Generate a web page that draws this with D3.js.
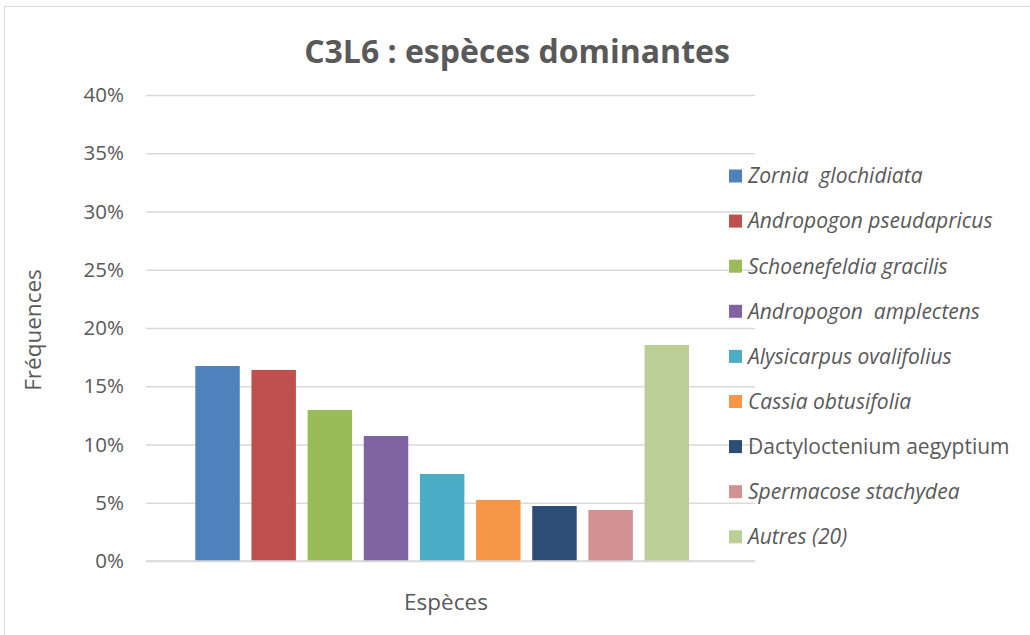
<!DOCTYPE html>
<html>
<head>
<meta charset="utf-8">
<script src="https://cdn.jsdelivr.net/npm/d3@7.9.0/dist/d3.min.js"></script>
<style>
  body { margin: 0; background: #fff; }
  text { font-family: "Open Sans", sans-serif; fill: #595959; }
</style>
</head>
<body>
<div id="chart"></div>
<script>
// data
const species = [
  "Zornia  glochidiata",
  "Andropogon pseudapricus",
  "Schoenefeldia gracilis",
  "Andropogon  amplectens",
  "Alysicarpus ovalifolius",
  "Cassia obtusifolia",
  "Dactyloctenium aegyptium",
  "Spermacose stachydea",
  "Autres (20)"
];
const frequencies = [0.1674, 0.164, 0.1296, 0.1073, 0.0747, 0.0524, 0.0472, 0.0438, 0.1854];
const italic = [true, true, true, true, true, true, false, true, true];
const colors = ["#4f81bd", "#c0504d", "#9bbb59", "#8064a2", "#4bacc6", "#f79646", "#2c4d75", "#d39191", "#bbce96"];
const yTicks = [0, 0.05, 0.1, 0.15, 0.2, 0.25, 0.3, 0.35, 0.4];

const width = 1030, height = 635;
const svg = d3.select('#chart').append('svg')
  .attr('width', width).attr('height', height);

// chart frame
svg.append('rect')
  .attr('x', 4.5).attr('y', 6.5)
  .attr('width', 1040).attr('height', 640)
  .attr('fill', 'none').attr('stroke', '#d9d9d9');

const plot = { left: 146, right: 755, top: 95, bottom: 561 };

const y = d3.scaleLinear().domain([0, 0.4]).range([plot.bottom, plot.top]);
const x = d3.scaleBand().domain(species).range([195.3, 689]).paddingInner(0.208).paddingOuter(0);
const color = d3.scaleOrdinal().domain(species).range(colors);

// gridlines
svg.append('g')
  .attr('class', 'gridlines')
  .attr('transform', `translate(${plot.left}, 0)`)
  .call(d3.axisLeft(y).tickValues(yTicks).tickFormat('').tickSize(-(plot.right - plot.left)))
  .call(g => g.select('.domain').remove())
  .call(g => g.selectAll('line').attr('stroke', '#d9d9d9').attr('stroke-width', 1.5));

// y axis labels
svg.append('g')
  .attr('transform', `translate(${plot.left}, 0)`)
  .call(d3.axisLeft(y).tickValues(yTicks).tickFormat(d3.format('.0%')).tickSize(0).tickPadding(22))
  .call(g => g.select('.domain').remove())
  .call(g => g.selectAll('text')
    .style('font-size', '20.5px')
    .style('font-family', '"Open Sans", sans-serif')
    .attr('fill', '#595959'));

// bars
svg.append('g').selectAll('rect')
  .data(species)
  .join('rect')
  .attr('x', d => x(d))
  .attr('width', x.bandwidth())
  .attr('y', (d, i) => y(frequencies[i]))
  .attr('height', (d, i) => y(0) - y(frequencies[i]))
  .attr('fill', d => color(d));

// baseline
svg.append('line')
  .attr('x1', plot.left).attr('x2', plot.right)
  .attr('y1', y(0)).attr('y2', y(0))
  .attr('stroke', '#d9d9d9').attr('stroke-width', 1.5);

// title
svg.append('text')
  .attr('x', 517).attr('y', 63)
  .attr('text-anchor', 'middle')
  .style('font-size', '32px')
  .style('font-weight', 'bold')
  .text('C3L6 : espèces dominantes');

// axis titles
svg.append('text')
  .attr('transform', 'translate(41, 330) rotate(-90)')
  .attr('text-anchor', 'middle')
  .style('font-size', '22.5px')
  .text('Fréquences');

svg.append('text')
  .attr('x', 446).attr('y', 610)
  .attr('text-anchor', 'middle')
  .style('font-size', '22.5px')
  .text('Espèces');

// legend
const legend = svg.append('g').attr('transform', 'translate(729, 176)');
const items = legend.selectAll('g')
  .data(species)
  .join('g')
  .attr('transform', (d, i) => `translate(0, ${i * 45.1})`);

items.append('rect')
  .attr('x', 0).attr('y', -6.5)
  .attr('width', 13).attr('height', 13)
  .attr('fill', d => color(d));

items.append('text')
  .attr('x', 19).attr('y', 0)
  .attr('dy', '0.35em')
  .attr('xml:space', 'preserve')
  .style('font-size', '21px')
  .style('font-style', (d, i) => italic[i] ? 'italic' : 'normal')
  .style('white-space', 'pre')
  .text(d => d);
</script>
</body>
</html>
